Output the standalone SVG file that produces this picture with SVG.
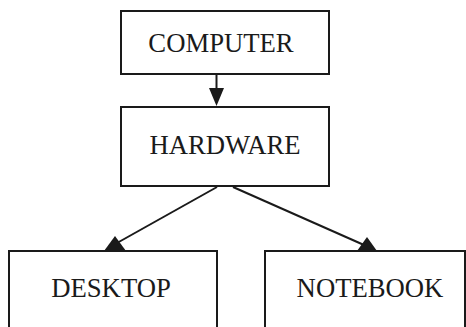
<svg xmlns="http://www.w3.org/2000/svg" width="466" height="327" viewBox="0 0 466 327">
  <style>
    .box { fill: #ffffff; stroke: #1a1a1a; stroke-width: 2; }
    .label { font-family: "Liberation Serif", "Times New Roman", serif; font-size: 26.7px; fill: #1a1a1a; text-anchor: middle; }
    .edge { stroke: #1a1a1a; stroke-width: 2; fill: none; }
    .head { fill: #1a1a1a; stroke: none; }
  </style>
  <rect width="466" height="327" fill="#ffffff"/>

  <g id="computer">
    <rect class="box" x="121" y="11" width="208" height="63"/>
    <text class="label" x="221" y="52">COMPUTER</text>
  </g>

  <g id="hardware">
    <rect class="box" x="121" y="107" width="208" height="79"/>
    <text class="label" x="225" y="154">HARDWARE</text>
  </g>

  <g id="desktop">
    <rect class="box" x="9" y="251" width="208" height="90"/>
    <text class="label" x="111" y="297">DESKTOP</text>
  </g>

  <g id="notebook">
    <rect class="box" x="265" y="251" width="200" height="90"/>
    <text class="label" x="370" y="297">NOTEBOOK</text>
  </g>

  <g id="connectors">
    <line class="edge" x1="216.5" y1="74" x2="216.5" y2="92"/>
    <polygon class="head" points="209,88 224,88 216.5,106"/>
    <line class="edge" x1="217" y1="187" x2="117" y2="243"/>
    <polygon class="head" points="115,236 104,251 126,251"/>
    <line class="edge" x1="233" y1="187" x2="364" y2="245"/>
    <polygon class="head" points="367,237 357,251 377,251"/>
  </g>
</svg>
